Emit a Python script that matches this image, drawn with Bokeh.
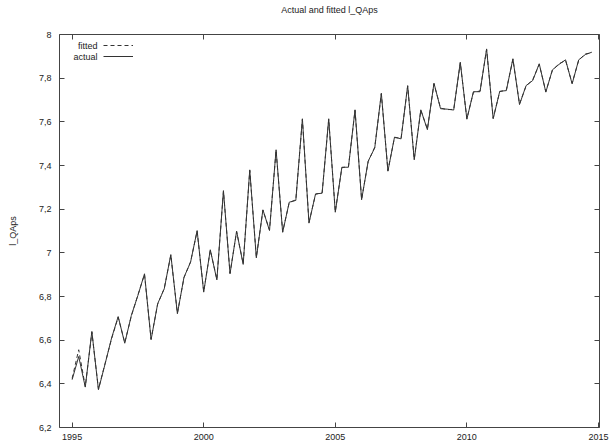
from bokeh.plotting import figure
from bokeh.models import (Range1d, FixedTicker, CustomJSTickFormatter, LinearAxis,
                          Legend, LegendItem, Label)
from bokeh.embed import file_html
from bokeh.resources import INLINE

FONT = "Liberation Sans"

start_year = 1995
n_quarters = 80
dates = [start_year + q / 4 for q in range(n_quarters)]

actual = [
    6.419, 6.525, 6.385, 6.640,
    6.373, 6.490, 6.610, 6.708,
    6.586, 6.713, 6.805, 6.904,
    6.602, 6.767, 6.835, 6.992,
    6.721, 6.888, 6.957, 7.102,
    6.820, 7.014, 6.876, 7.285,
    6.904, 7.099, 6.947, 7.380,
    6.977, 7.197, 7.102, 7.472,
    7.094, 7.232, 7.240, 7.614,
    7.136, 7.270, 7.273, 7.614,
    7.186, 7.392, 7.392, 7.655,
    7.243, 7.420, 7.481, 7.731,
    7.374, 7.530, 7.522, 7.766,
    7.426, 7.655, 7.564, 7.777,
    7.660, 7.658, 7.654, 7.873,
    7.612, 7.738, 7.738, 7.934,
    7.614, 7.740, 7.743, 7.889,
    7.679, 7.766, 7.789, 7.866,
    7.736, 7.838, 7.863, 7.884,
    7.774, 7.884, 7.908, 7.919,
]

fitted = [
    6.425, 6.556, 6.388, 6.636,
    6.376, 6.492, 6.607, 6.705,
    6.589, 6.711, 6.807, 6.901,
    6.605, 6.765, 6.837, 6.989,
    6.724, 6.886, 6.959, 7.099,
    6.823, 7.012, 6.879, 7.282,
    6.907, 7.097, 6.950, 7.377,
    6.980, 7.195, 7.105, 7.469,
    7.097, 7.230, 7.243, 7.611,
    7.139, 7.268, 7.276, 7.611,
    7.189, 7.390, 7.395, 7.652,
    7.246, 7.418, 7.484, 7.728,
    7.377, 7.528, 7.525, 7.763,
    7.429, 7.653, 7.567, 7.774,
    7.663, 7.656, 7.657, 7.870,
    7.615, 7.736, 7.741, 7.931,
    7.617, 7.738, 7.746, 7.886,
    7.682, 7.764, 7.792, 7.863,
    7.739, 7.836, 7.866, 7.881,
    7.777, 7.882, 7.911, 7.916,
]

x_ticks = [1995, 2000, 2005, 2010, 2015]
y_ticks = [6.2, 6.4, 6.6, 6.8, 7.0, 7.2, 7.4, 7.6, 7.8, 8.0]

title_text = "Actual and fitted l_QAps"
y_label = "l_QAps"
legend_labels = ["fitted", "actual"]

p = figure(width=611, height=448, output_backend="svg", toolbar_location=None,
           x_range=Range1d(1994.52, 2015.04), y_range=Range1d(6.2, 8.0),
           min_border_left=59, min_border_right=12, min_border_top=34,
           min_border_bottom=21, background_fill_color="white",
           border_fill_color="white")

p.xgrid.visible = False
p.ygrid.visible = False
p.outline_line_color = "#444444"
p.outline_line_width = 1

fmt = CustomJSTickFormatter(code="""
    var s = (Math.round(tick * 10) / 10).toString();
    return s.replace('.', ',');
""")
blank = CustomJSTickFormatter(code="return '';")

def style_axis(ax, labels=True):
    ax.axis_line_color = None
    ax.major_tick_line_color = "#444444"
    ax.major_tick_in = 5
    ax.major_tick_out = 0
    ax.minor_tick_line_color = None
    ax.major_label_text_font = FONT
    ax.major_label_text_font_size = "9px"
    ax.major_label_text_color = "#222222"
    if not labels:
        ax.formatter = blank
        ax.major_label_text_color = None
        ax.major_label_standoff = 0

xa = p.xaxis[0]
xa.ticker = FixedTicker(ticks=x_ticks)
style_axis(xa)
xa.major_label_standoff = 6

ya = p.yaxis[0]
ya.ticker = FixedTicker(ticks=y_ticks)
ya.formatter = fmt
style_axis(ya)
ya.major_label_standoff = 8
ya.axis_label = y_label
ya.axis_label_text_font = FONT
ya.axis_label_text_font_size = "9px"
ya.axis_label_text_font_style = "normal"
ya.axis_label_text_color = "#222222"
ya.axis_label_standoff = 18

ra = LinearAxis(ticker=FixedTicker(ticks=y_ticks))
style_axis(ra, labels=False)
p.add_layout(ra, "right")

# top axis: mirrored ticks, carries the chart title as its label
ta = LinearAxis(ticker=FixedTicker(ticks=x_ticks))
style_axis(ta, labels=False)
ta.axis_label = title_text
ta.axis_label_text_font = FONT
ta.axis_label_text_font_size = "9px"
ta.axis_label_text_font_style = "normal"
ta.axis_label_text_color = "#222222"
ta.axis_label_standoff = 20
p.add_layout(ta, "above")

r_fit = p.line(dates, fitted, line_color="#333333", line_width=1, line_dash="4 3")
r_act = p.line(dates, actual, line_color="#333333", line_width=1)

legend = Legend(items=[LegendItem(label=" ", renderers=[r_fit]),
                       LegendItem(label=" ", renderers=[r_act])],
                location=(44, 366), glyph_width=30, glyph_height=10,
                label_height=10, label_width=1, spacing=1, padding=0,
                margin=0, border_line_color=None, background_fill_alpha=0,
                label_text_font_size="9px", label_text_color=None)
p.add_layout(legend, "center")

for txt, yy in zip(legend_labels, [382, 371]):
    p.add_layout(Label(x=38, y=yy, x_units="screen", y_units="screen", text=txt,
                       text_align="right", text_baseline="middle",
                       text_font=FONT, text_font_size="9px",
                       text_color="#222222"))

open("out.html", "w").write(file_html(p, INLINE))
